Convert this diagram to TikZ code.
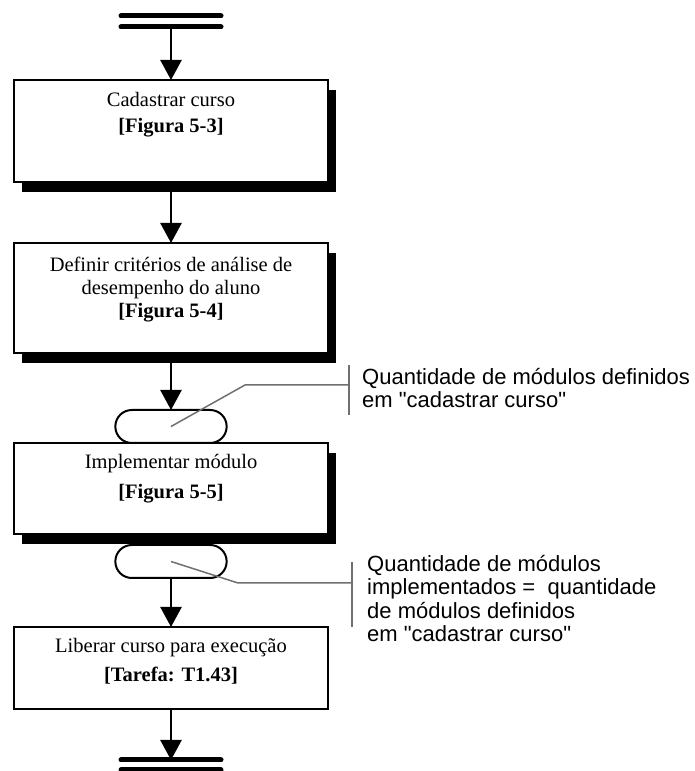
\documentclass[tikz,border=0pt]{standalone}
\usepackage{fontspec}
\setmainfont{Liberation Serif}
\newfontfamily\notefont{Liberation Sans}
\definecolor{NoteGray}{RGB}{112, 112, 112}
\usetikzlibrary{arrows.meta, positioning, shapes.misc, shadows}

\begin{document}
\begin{tikzpicture}[
        x=1pt, y=1pt,
        activity/.style={rectangle, draw, line width=2pt, fill=white, minimum width=314pt, inner sep=0pt, outer sep=0pt},
        shadowed/.style={general shadow={fill=black, shadow xshift=8pt, shadow yshift=-10pt}},
        caption/.style={align=center, inner sep=0pt, font=\fontsize{20.5}{23}\selectfont},
        capsule/.style={rounded rectangle, draw, line width=2pt, fill=white, minimum width=118pt, minimum height=33pt, outer sep=0pt},
        note/.style={align=left, anchor=north west, inner sep=0pt, font=\notefont\fontsize{22}{23.5}\selectfont},
        leader/.style={draw=NoteGray, line width=1.5pt},
        endbar/.style={line width=5pt, line cap=round},
        arrow/.style={line width=2.5pt, -{Triangle[length=20pt, width=21pt]}}
    ]
        \useasboundingbox (0,0) rectangle (694,771);

        \node[activity, shadowed, minimum height=102pt] (cad) at (171,640) {};
        \node[activity, shadowed, minimum height=110pt, below=61pt of cad] (crit) {};
        \node[capsule, below=57pt of crit] (cap1) {};
        \node[activity, shadowed, minimum height=91pt, below=0pt of cap1] (impl) {};
        \node[capsule, below=11pt of impl] (cap2) {};
        \node[activity, minimum height=82pt, below=49pt of cap2] (lib) {};

        \node[caption, below=12pt of cad.north] (cadtxt) {Cadastrar curso\\[3pt]\textbf{[Figura 5-3]}};
        \node[caption, below=14pt of crit.north] (crittxt) {Definir critérios de análise de\\desempenho do aluno\\\textbf{[Figura 5-4]}};
        \node[caption, below=11pt of impl.north] (impltxt) {Implementar módulo\\[7pt]\textbf{[Figura 5-5]}};
        \node[caption, below=11pt of lib.north] (libtxt) {Liberar curso para execução\\[6pt]\textbf{[Tarefa: T1.43]}};

        \coordinate[above=53pt of cad] (start);
        \coordinate[below=51pt of lib] (stop);

        \draw[endbar] ([xshift=-50pt]start) -- ([xshift=50pt]start);
        \draw[endbar] ([xshift=-50pt, yshift=11pt]start) -- ([xshift=50pt, yshift=11pt]start);
        \draw[endbar] ([xshift=-50pt]stop) -- ([xshift=50pt]stop);
        \draw[endbar] ([xshift=-50pt, yshift=-10pt]stop) -- ([xshift=50pt, yshift=-10pt]stop);

        \draw[arrow] (start) -- (cad);
        \draw[arrow] (cad) -- (crit);
        \draw[arrow] (crit) -- (cap1);
        \draw[arrow] (cap2) -- (lib);
        \draw[arrow] (lib) -- (stop);

        \node[note] (note1) at (362,403) {Quantidade de módulos definidos\\em "cadastrar curso"};
        \node[note] (note2) at (367,216) {Quantidade de módulos\\implementados =\ \ quantidade\\de módulos definidos\\em "cadastrar curso"};

        \coordinate (bar1) at (349,386);
        \coordinate (bar2) at (352,188);
        \draw[leader] ([yshift=20pt]bar1) -- ([yshift=-30pt]bar1);
        \draw[leader] ([yshift=21pt]bar2) -- ([yshift=-44pt]bar2);
        \draw[leader] (cap1.center) -- (245,386) -- (bar1);
        \draw[leader] (cap2.center) -- (238,188) -- (bar2);
    \end{tikzpicture}
\end{document}
